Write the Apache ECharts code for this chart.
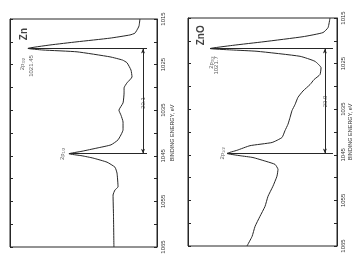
<!DOCTYPE html>
<html><head><meta charset="utf-8">
<script src="https://cdn.jsdelivr.net/npm/echarts@6/dist/echarts.min.js"></script>
<style>html,body{margin:0;padding:0;background:#fff}#c{width:360px;height:263px}</style>
</head><body><div id="c"></div>
<script>
// Binding energy tick labels (eV)
const tickValues = [1015, 1025, 1035, 1045, 1055, 1065];

// Zn spectrum: binding energy (eV) and intensity (arb. units, 0 at energy axis)
const znEnergy = [1015.0, 1016.5, 1017.0, 1018.1, 1018.5, 1019.2, 1020.0, 1020.7, 1021.45, 1021.8, 1022.2, 1023.3, 1024.0, 1024.6, 1026.2, 1027.7, 1029.0, 1030.1, 1031.2, 1033.4, 1035.0, 1036.1, 1037.6, 1039.3, 1041.5, 1042.6, 1043.3, 1044.0, 1044.55, 1045.0, 1045.5, 1046.4, 1047.5, 1048.8, 1051.8, 1052.5, 1053.6, 1058.0, 1065.0];
const znIntensity = [11.6, 12.2, 12.9, 15.0, 18.4, 32.0, 54.4, 72.8, 87.8, 77.6, 54.4, 32.0, 23.5, 20.4, 17.7, 17.0, 20.4, 22.4, 22.4, 23.1, 25.9, 24.5, 23.1, 23.1, 26.5, 31.3, 40.8, 51.0, 59.9, 51.0, 43.5, 34.0, 28.6, 27.2, 26.5, 28.6, 29.9, 29.6, 29.3];

// ZnO spectrum
const znoEnergy = [1015.0, 1017.1, 1018.2, 1019.1, 1020.2, 1021.0, 1021.7, 1022.0, 1022.3, 1023.4, 1024.5, 1025.9, 1027.4, 1028.5, 1029.6, 1031.0, 1032.4, 1034.0, 1035.3, 1036.8, 1038.3, 1039.7, 1041.2, 1042.3, 1043.0, 1044.0, 1044.7, 1045.2, 1045.6, 1046.5, 1047.1, 1048.2, 1049.7, 1051.9, 1054.1, 1056.3, 1058.5, 1060.7, 1062.9, 1065.0];
const znoIntensity = [4.7, 6.0, 9.4, 22.8, 49.0, 70.0, 85.2, 71.0, 53.7, 24.8, 14.8, 10.7, 11.4, 15.4, 18.1, 22.8, 26.2, 28.2, 30.2, 31.5, 32.9, 34.9, 36.9, 43.6, 58.4, 67.0, 73.8, 65.0, 56.4, 47.0, 41.6, 39.6, 40.3, 43.0, 46.3, 48.3, 51.7, 55.0, 57.0, 60.4];

// Peaks: 2p3/2 and 2p1/2 positions
const znPeakEnergy = [1021.45, 1044.55];
const znPeakIntensity = [87.8, 59.9];
const znoPeakEnergy = [1021.7, 1044.7];
const znoPeakIntensity = [85.2, 73.8];
const splitting = ['23.1', '23.0'];
const sampleNames = ['Zn', 'ZnO'];
const peakPositionLabels = ['1021.45', '1021.7'];

const FONT = "'Liberation Sans', Arial, sans-serif";
const INK = '#262626';

function yAxisRight(gi) {
  return {
    type: 'value', gridIndex: gi, position: 'right', inverse: true,
    min: 1015, max: 1065, interval: 5,
    axisLine: { show: true, lineStyle: { color: INK, width: 1 } },
    axisTick: { show: true, inside: true, length: 3, lineStyle: { color: INK, width: 1 } },
    axisLabel: { rotate: 90, fontSize: 6, color: '#333', fontFamily: FONT, margin: 3,
      formatter: v => tickValues.includes(v) ? String(v) : '' },
    splitLine: { show: false },
    name: 'BINDING ENERGY, eV', nameLocation: 'middle', nameRotate: 90,
    nameGap: gi === 0 ? 12 : 10,
    nameTextStyle: { fontSize: 5.5, color: '#333', fontFamily: FONT }
  };
}
function yAxisLeft(gi) {
  return {
    type: 'value', gridIndex: gi, position: 'left', inverse: true,
    min: 1015, max: 1065, interval: 5,
    axisLine: { show: true, lineStyle: { color: INK, width: 1 } },
    axisTick: { show: true, inside: true, length: 3, lineStyle: { color: INK, width: 1 } },
    axisLabel: { show: false }, splitLine: { show: false }
  };
}
function xAxisHidden(gi) {
  return { type: 'value', gridIndex: gi, inverse: true, min: 0, max: 100, show: false };
}

function spectrumSeries(gi, energy, intensity, peakE, peakI, endI, arrowI, split) {
  return {
    type: 'line', xAxisIndex: gi, yAxisIndex: gi * 2,
    data: energy.map((e, i) => [intensity[i], e]),
    showSymbol: false, smooth: 0.15, animation: false,
    lineStyle: { color: INK, width: 1 },
    markLine: {
      silent: true, animation: false, symbol: 'none',
      lineStyle: { color: INK, width: 1, type: 'solid' },
      label: { show: false },
      data: [
        [{ coord: [peakI[0], peakE[0]] }, { coord: [endI, peakE[0]] }],
        [{ coord: [peakI[1], peakE[1]] }, { coord: [endI, peakE[1]] }],
        [{ coord: [arrowI, peakE[0]], symbol: 'arrow', symbolSize: [3, 5] },
         { coord: [arrowI, peakE[1]], symbol: 'arrow', symbolSize: [3, 5] }]
      ]
    }
  };
}

const sub = { a: { fontSize: 6, fontFamily: FONT, color: '#333' }, b: { fontSize: 4, fontFamily: FONT, color: '#333', verticalAlign: 'bottom', padding: [3, 0, 0, 0] } };

function labelSeries(gi, items) {
  return {
    type: 'scatter', xAxisIndex: gi, yAxisIndex: gi * 2, symbolSize: 1, silent: true, animation: false,
    itemStyle: { color: 'rgba(0,0,0,0)' },
    data: items.map(it => ({ value: [it.i, it.e], label: it.label })),
    label: { show: true, position: 'inside', rotate: 90, fontFamily: FONT, color: '#333', rich: sub }
  };
}

const chart = echarts.init(document.getElementById('c'), null, { renderer: 'canvas' });
chart.setOption({
  backgroundColor: '#fff',
  animation: false,
  grid: [
    { left: 10, right: 203, top: 19, bottom: 16, show: true, borderColor: INK, borderWidth: 1 },
    { left: 188, right: 23, top: 18, bottom: 17, show: true, borderColor: INK, borderWidth: 1 }
  ],
  xAxis: [xAxisHidden(0), xAxisHidden(1)],
  yAxis: [yAxisRight(0), yAxisLeft(0), yAxisRight(1), yAxisLeft(1)],
  series: [
    spectrumSeries(0, znEnergy, znIntensity, znPeakEnergy, znPeakIntensity, 6.8, 9.5, splitting[0]),
    spectrumSeries(1, znoEnergy, znoIntensity, znoPeakEnergy, znoPeakIntensity, 2.7, 8.1, splitting[1]),
    labelSeries(0, [
      { i: 90.5, e: 1018.3, label: { formatter: sampleNames[0], fontSize: 10, fontWeight: 'bold', color: '#111' } },
      { i: 91.8, e: 1024.9, label: { formatter: '{a|2p}{b|3/2}' } },
      { i: 85.7, e: 1025.3, label: { formatter: peakPositionLabels[0], fontSize: 6 } },
      { i: 64.6, e: 1044.6, label: { formatter: '{a|2p}{b|1/2}' } },
      { i: 9.5, e: 1033.4, label: { formatter: splitting[0], fontSize: 6, backgroundColor: '#fff', padding: [0, 2] } }
    ]),
    labelSeries(1, [
      { i: 91.3, e: 1018.8, label: { formatter: sampleNames[1], fontSize: 10, fontWeight: 'bold', color: '#111' } },
      { i: 84.6, e: 1024.8, label: { formatter: '{a|2p}{b|3/2}' } },
      { i: 81.2, e: 1025.4, label: { formatter: peakPositionLabels[1], fontSize: 6 } },
      { i: 77.2, e: 1044.7, label: { formatter: '{a|2p}{b|1/2}' } },
      { i: 8.1, e: 1033.3, label: { formatter: splitting[1], fontSize: 6, backgroundColor: '#fff', padding: [0, 2] } }
    ])
  ]
});
</script>
</body></html>
